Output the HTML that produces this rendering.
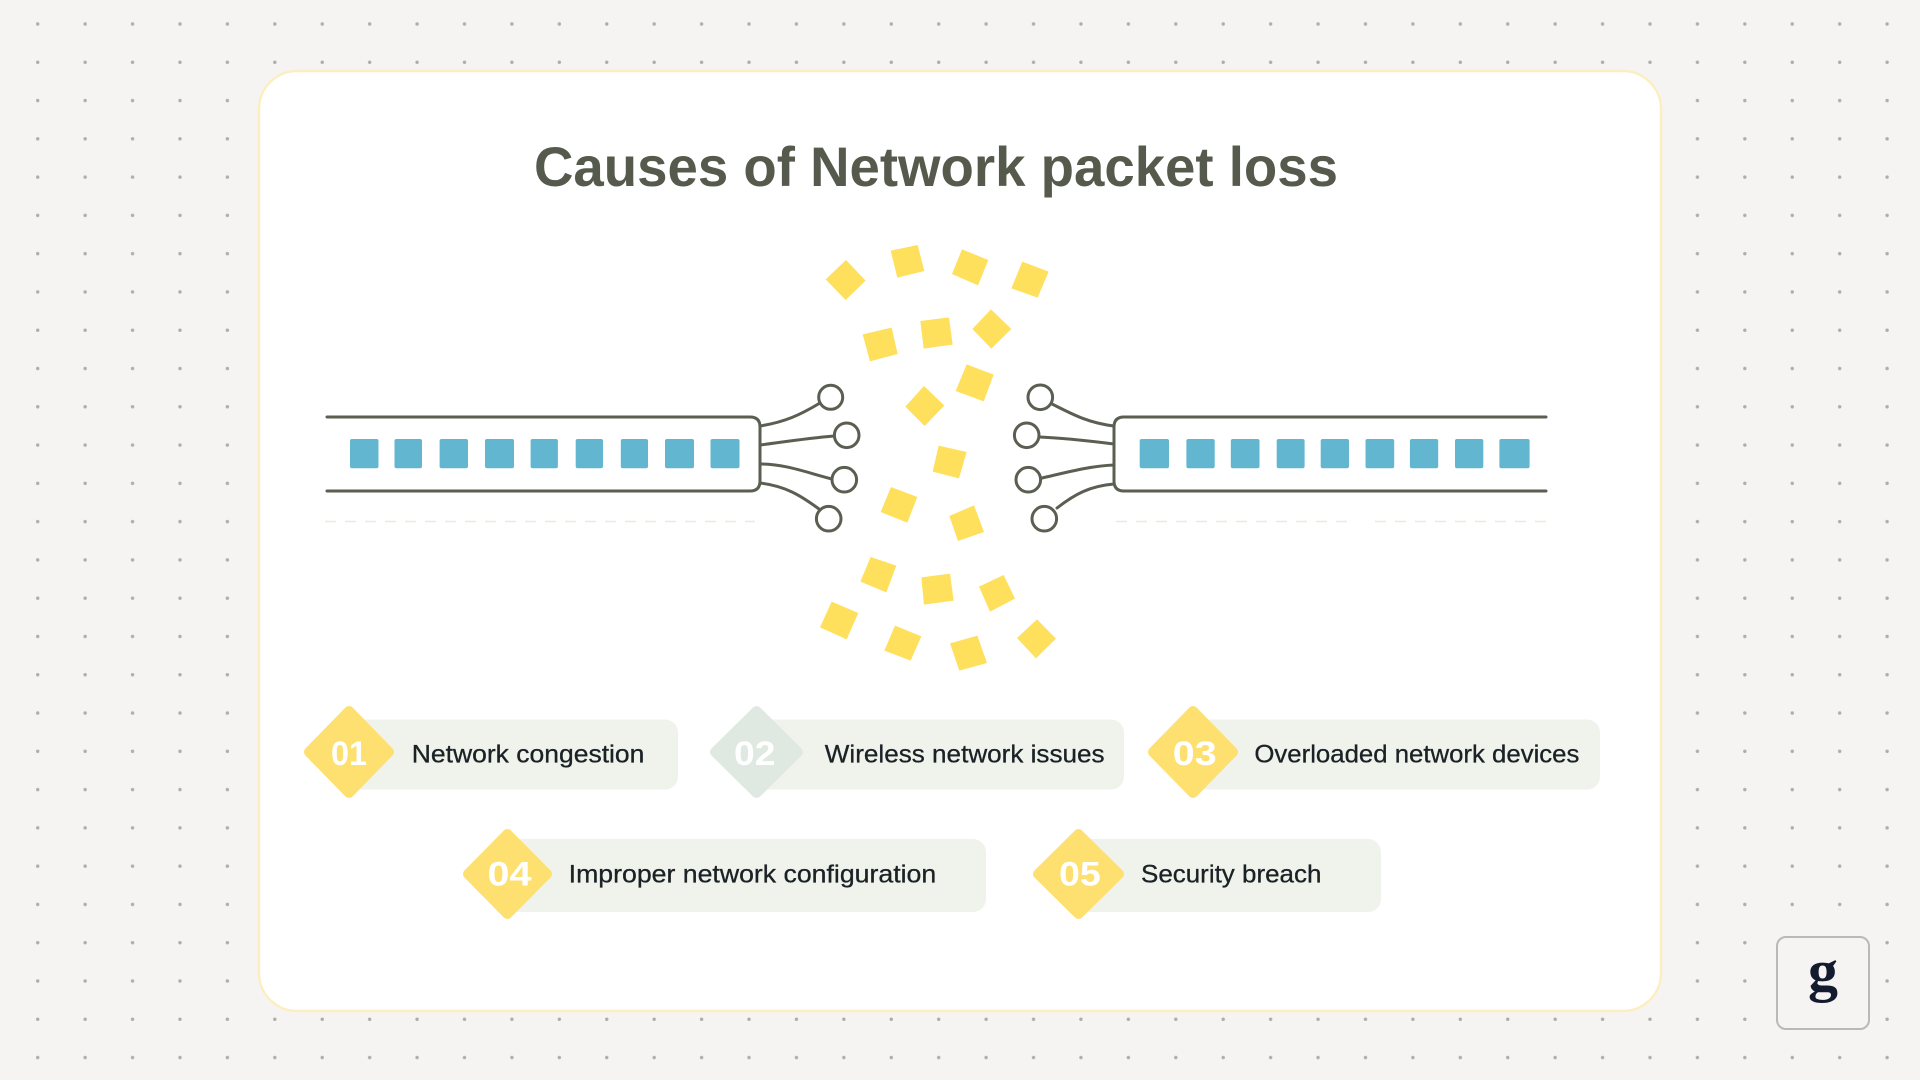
<!DOCTYPE html>
<html><head><meta charset="utf-8"><title>Causes of Network packet loss</title>
<style>html,body{margin:0;padding:0;background:#f5f4f2}svg{display:block}
text{font-family:"Liberation Sans",sans-serif}</style></head>
<body>
<svg xmlns="http://www.w3.org/2000/svg" width="1920" height="1080" viewBox="0 0 1920 1080">
<defs>
<pattern id="d" patternUnits="userSpaceOnUse" x="14" y="4.86" width="47.42" height="38.28"><circle cx="23.71" cy="19.14" r="1.7" fill="#aeadab"/></pattern>
</defs>
<rect width="1920" height="1080" fill="#f5f4f2"/>
<rect width="1920" height="1080" fill="url(#d)"/>
<rect x="259" y="71" width="1402" height="940" rx="38" ry="38" fill="#fff" stroke="#fdeebf" stroke-width="2.4"/>
<text x="534" y="186" font-size="56" font-weight="700" fill="#565a4c" textLength="804" lengthAdjust="spacingAndGlyphs">Causes of Network packet loss</text>

<!-- left device -->
<g fill="none" stroke="#5a5f52" stroke-width="3" stroke-linecap="round">
<path d="M327 417H750Q760 417 760 427V481Q760 491 750 491H327"/>
<path d="M760 426C785 422 800 415 820 403"/>
<path d="M760 445C790 441 810 438 834 436"/>
<path d="M760 464C785 464 805 472 832 479"/>
<path d="M760 483C785 486 800 495 819 509"/>
<circle cx="830.7" cy="397.3" r="12"/><circle cx="846.7" cy="435.3" r="12.3"/><circle cx="844.3" cy="479.7" r="12.3"/><circle cx="828.7" cy="518.7" r="12.3"/>
<!-- right device -->
<path d="M1546 417H1124Q1114 417 1114 427V481Q1114 491 1124 491H1546"/>
<path d="M1114 426C1088 423 1072 414 1052 404"/>
<path d="M1114 444C1090 441 1065 438 1039 437"/>
<path d="M1114 465C1090 466 1068 472 1042 478"/>
<path d="M1114 484C1090 486 1075 494 1057 508"/>
<circle cx="1040.3" cy="397.3" r="12.3"/><circle cx="1026.7" cy="435.3" r="12.3"/><circle cx="1028.3" cy="479.7" r="12.3"/><circle cx="1044.3" cy="518.7" r="12.3"/>
</g>
<g stroke="#e9eadf" stroke-width="1.5" stroke-dasharray="11 9" fill="none">
<path d="M325 521.5H755"/><path d="M1116 521.5H1350"/><path d="M1375 521.5H1547"/>
</g>
<g fill="#62b6cf">
<rect x="350" y="439" width="28.5" height="29.3" rx="2"/><rect x="394.5" y="439" width="27.5" height="29.3" rx="2"/><rect x="439.6" y="439" width="28.4" height="29.3" rx="2"/><rect x="485" y="439" width="29" height="29.3" rx="2"/><rect x="530.6" y="439" width="27.3" height="29.3" rx="2"/><rect x="575.7" y="439" width="27.3" height="29.3" rx="2"/><rect x="620.8" y="439" width="27.2" height="29.3" rx="2"/><rect x="665" y="439" width="29" height="29.3" rx="2"/><rect x="710.5" y="439" width="29" height="29.3" rx="2"/>
<rect x="1139.7" y="439" width="29.3" height="29.3" rx="2"/><rect x="1186.4" y="439" width="28.3" height="29.3" rx="2"/><rect x="1230.8" y="439" width="28.7" height="29.3" rx="2"/><rect x="1276.7" y="439" width="27.9" height="29.3" rx="2"/><rect x="1320.7" y="439" width="28.3" height="29.3" rx="2"/><rect x="1365.5" y="439" width="28.7" height="29.3" rx="2"/><rect x="1409.9" y="439" width="28.3" height="29.3" rx="2"/><rect x="1455" y="439" width="28.3" height="29.3" rx="2"/><rect x="1499.4" y="439" width="30.2" height="29.3" rx="2"/>
</g>

<!-- packets -->
<g fill="#fee05c" transform="translate(780 230) scale(.33333)">
<polygon points="198,90 257,152 197,210 137,148"/>
<polygon points="332,62 413,45 433,123 352,143"/>
<polygon points="546,58 625,90 594,166 516,132"/>
<polygon points="727,95 806,125 773,203 694,175"/>
<polygon points="248,313 335,293 353,372 270,394"/>
<polygon points="421,273 507,262 518,344 431,356"/>
<polygon points="633,238 694,297 634,356 577,297"/>
<polygon points="560,403 641,434 611,514 527,483"/>
<polygon points="432,468 493,527 434,588 376,530"/>
<polygon points="476,647 560,666 537,745 458,725"/>
<polygon points="333,771 412,801 382,878 302,846"/>
<polygon points="582,826 612,906 534,933 508,858"/>
<polygon points="272,981 349,1007 319,1087 241,1055"/>
<polygon points="424,1042 510,1031 521,1112 432,1124"/>
<polygon points="671,1035 705,1106 630,1145 597,1070"/>
<polygon points="155,1115 235,1149 200,1228 120,1192"/>
<polygon points="345,1187 424,1219 392,1292 313,1262"/>
<polygon points="510,1240 592,1217 621,1299 538,1322"/>
<polygon points="771,1168 828,1226 768,1285 711,1224"/>
</g>

<!-- pills -->
<g fill="#f0f3ec">
<rect x="350" y="719.5" width="328" height="70" rx="13"/>
<rect x="755" y="719.5" width="369" height="70" rx="13"/>
<rect x="1190" y="719.5" width="410" height="70" rx="13"/>
<rect x="505" y="839" width="481" height="73" rx="13"/>
<rect x="1075" y="839" width="306" height="73" rx="13"/>
</g>
<g stroke-width="10" stroke-linejoin="round">
<polygon fill="#fee070" stroke="#fee070" points="349,711 389,752 349,793 309,752"/>
<polygon fill="#dfe8e1" stroke="#dfe8e1" points="756.5,711 798,752 756.5,793 715,752"/>
<polygon fill="#fee070" stroke="#fee070" points="1193,711 1233,752 1193,793 1153,752"/>
<polygon fill="#fee070" stroke="#fee070" points="507.4,834 547,874 507.4,914 468,874"/>
<polygon fill="#fee070" stroke="#fee070" points="1078.5,834 1119,874 1078.5,914 1038,874"/>
</g>
<g fill="#fff" font-size="34" font-weight="700">
<text x="331" y="765" textLength="36" lengthAdjust="spacingAndGlyphs">01</text>
<text x="734" y="765" textLength="41.5" lengthAdjust="spacingAndGlyphs">02</text>
<text x="1172.8" y="765" textLength="43.8" lengthAdjust="spacingAndGlyphs">03</text>
<text x="487.5" y="885.5" textLength="44" lengthAdjust="spacingAndGlyphs">04</text>
<text x="1059" y="885.5" textLength="41.8" lengthAdjust="spacingAndGlyphs">05</text>
</g>
<g fill="#1a2226" font-size="25" stroke="#1a2226" stroke-width=".3">
<text x="411.8" y="762.7" textLength="232.6" lengthAdjust="spacingAndGlyphs">Network congestion</text>
<text x="824.8" y="762.7" textLength="279.8" lengthAdjust="spacingAndGlyphs">Wireless network issues</text>
<text x="1254.4" y="762.7" textLength="325" lengthAdjust="spacingAndGlyphs">Overloaded network devices</text>
<text x="568.7" y="882.7" textLength="367.5" lengthAdjust="spacingAndGlyphs">Improper network configuration</text>
<text x="1141" y="882.7" textLength="180.4" lengthAdjust="spacingAndGlyphs">Security breach</text>
</g>

<!-- logo -->
<rect x="1777" y="937" width="92" height="92" rx="9" fill="#f5f4f2" stroke="#b9b9b9" stroke-width="2"/>
<text x="1808" y="990" font-size="58" font-weight="700" fill="#141b2e" style="font-family:'Liberation Serif',serif" textLength="30" lengthAdjust="spacingAndGlyphs">g</text>
</svg>
</body></html>
